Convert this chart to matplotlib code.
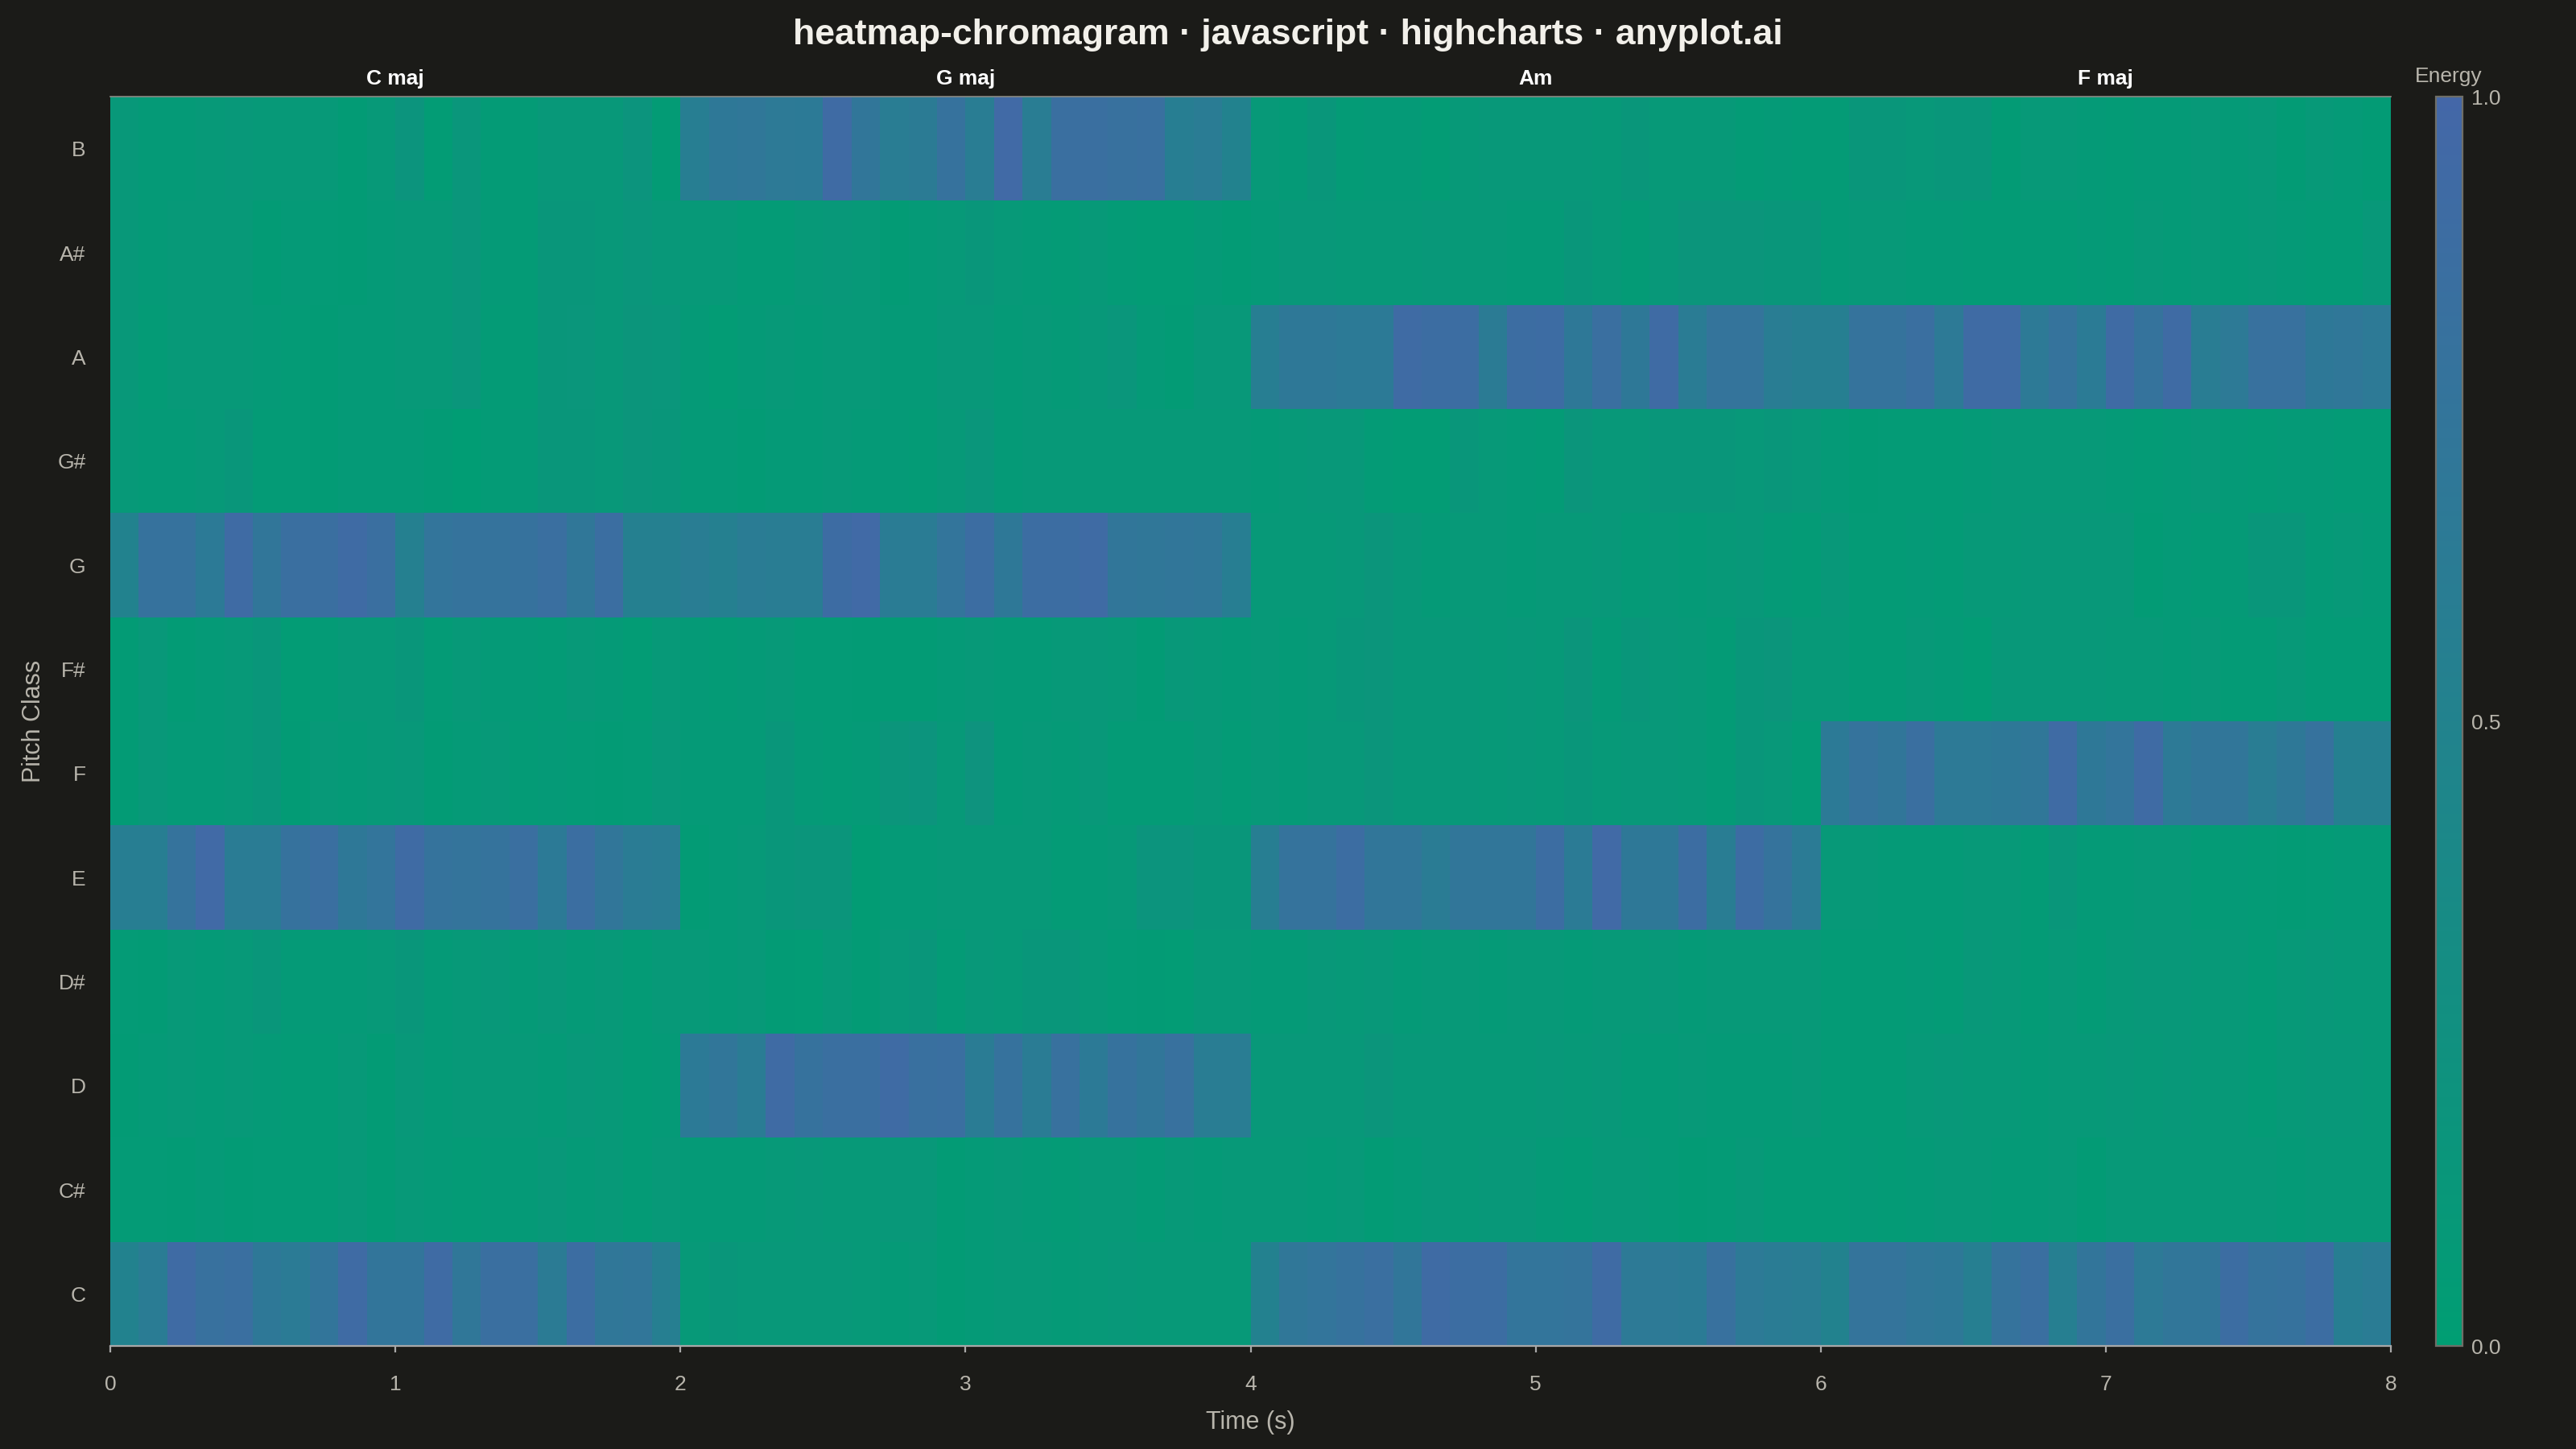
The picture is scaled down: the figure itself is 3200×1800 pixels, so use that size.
import numpy as np
import matplotlib
matplotlib.use("Agg")
import matplotlib.pyplot as plt
from matplotlib.colors import LinearSegmentedColormap

# ---------------- data ----------------
pitch_classes = ["C", "C#", "D", "D#", "E", "F", "F#", "G", "G#", "A", "A#", "B"]
frame_step = 0.1  # seconds per chroma frame
chords = ["C maj", "G maj", "Am", "F maj"]
chord_starts = [0, 2, 4, 6]
chord_ends = [2, 4, 6, 8]
x_ticks = [0, 1, 2, 3, 4, 5, 6, 7, 8]
cbar_ticks = [0.0, 0.5, 1.0]

energy_C = [0.5,0.62,0.93,0.82,0.85,0.68,0.64,0.74,0.93,0.74,0.74,0.93,0.7,0.85,0.85,0.63,0.88,0.7,0.72,0.56,
            0.1,0.14,0.12,0.12,0.12,0.12,0.1,0.08,0.1,0.05,0.08,0.1,0.1,0.08,0.1,0.12,0.1,0.1,0.1,0.1,
            0.52,0.7,0.75,0.8,0.85,0.72,0.92,0.88,0.88,0.75,0.75,0.76,0.92,0.66,0.66,0.64,0.82,0.66,0.62,0.6,
            0.5,0.76,0.76,0.7,0.68,0.56,0.78,0.85,0.56,0.74,0.85,0.66,0.72,0.72,0.88,0.78,0.8,0.88,0.58,0.62]
energy_Cs = [0.06,0.06,0.05,0.08,0.05,0.06,0.06,0.06,0.1,0.05,0.1,0.08,0.06,0.08,0.08,0.12,0.08,0.1,0.06,0.1,
             0.08,0.08,0.08,0.1,0.12,0.1,0.1,0.12,0.12,0.05,0.08,0.1,0.08,0.06,0.1,0.1,0.06,0.1,0.08,0.1,
             0.1,0.1,0.08,0.1,0.05,0.08,0.12,0.1,0.12,0.12,0.08,0.06,0.1,0.1,0.08,0.05,0.06,0.1,0.06,0.06,
             0.06,0.08,0.06,0.08,0.1,0.1,0.08,0.08,0.1,0.05,0.1,0.1,0.1,0.1,0.1,0.1,0.08,0.1,0.1,0.1]
energy_D = [0.05,0.08,0.1,0.08,0.1,0.08,0.06,0.06,0.1,0.05,0.12,0.08,0.1,0.1,0.1,0.08,0.12,0.1,0.06,0.08,
            0.65,0.72,0.62,0.92,0.8,0.85,0.85,0.93,0.83,0.85,0.62,0.8,0.62,0.82,0.65,0.8,0.72,0.82,0.6,0.6,
            0.12,0.12,0.12,0.12,0.16,0.12,0.12,0.1,0.1,0.1,0.12,0.1,0.12,0.08,0.08,0.1,0.08,0.08,0.08,0.1,
            0.06,0.06,0.06,0.1,0.12,0.1,0.1,0.08,0.1,0.1,0.12,0.1,0.12,0.1,0.1,0.06,0.1,0.12,0.12,0.1]
energy_Ds = [0.06,0.05,0.1,0.08,0.1,0.14,0.08,0.08,0.08,0.1,0.14,0.08,0.1,0.12,0.08,0.12,0.08,0.1,0.06,0.1,
             0.1,0.08,0.1,0.05,0.04,0.1,0.05,0.12,0.14,0.06,0.12,0.1,0.14,0.14,0.1,0.06,0.05,0.04,0.1,0.1,
             0.08,0.08,0.12,0.1,0.12,0.08,0.1,0.1,0.08,0.1,0.1,0.08,0.1,0.1,0.12,0.08,0.1,0.1,0.1,0.1,
             0.06,0.06,0.06,0.08,0.06,0.12,0.1,0.06,0.1,0.06,0.1,0.12,0.12,0.1,0.1,0.06,0.1,0.12,0.1,0.1]
energy_E = [0.58,0.58,0.78,0.95,0.62,0.62,0.8,0.85,0.68,0.75,0.93,0.78,0.76,0.78,0.85,0.65,0.87,0.72,0.62,0.6,
            0.05,0.08,0.1,0.14,0.16,0.16,0.03,0.08,0.08,0.1,0.1,0.1,0.1,0.06,0.08,0.1,0.18,0.18,0.14,0.14,
            0.58,0.78,0.78,0.88,0.72,0.72,0.62,0.72,0.72,0.72,0.88,0.64,0.95,0.68,0.68,0.88,0.6,0.9,0.78,0.64,
            0.1,0.1,0.08,0.08,0.08,0.1,0.1,0.06,0.14,0.08,0.08,0.1,0.1,0.06,0.08,0.06,0.05,0.06,0.08,0.08]
energy_F = [0.05,0.12,0.08,0.08,0.1,0.14,0.05,0.1,0.08,0.1,0.12,0.05,0.08,0.1,0.06,0.08,0.06,0.05,0.06,0.12,
            0.08,0.08,0.08,0.14,0.08,0.06,0.08,0.16,0.18,0.1,0.2,0.08,0.1,0.08,0.12,0.06,0.06,0.06,0.1,0.06,
            0.1,0.08,0.12,0.12,0.16,0.12,0.12,0.12,0.1,0.12,0.1,0.14,0.1,0.12,0.12,0.1,0.06,0.14,0.12,0.06,
            0.65,0.78,0.72,0.85,0.66,0.66,0.68,0.7,0.92,0.68,0.75,0.92,0.66,0.72,0.72,0.6,0.68,0.8,0.55,0.55]
energy_Fs = [0.05,0.12,0.05,0.08,0.1,0.14,0.04,0.06,0.1,0.1,0.14,0.06,0.1,0.08,0.08,0.06,0.1,0.08,0.04,0.1,
             0.08,0.06,0.08,0.1,0.06,0.06,0.05,0.05,0.05,0.08,0.1,0.08,0.08,0.1,0.12,0.1,0.05,0.12,0.1,0.08,
             0.1,0.08,0.1,0.14,0.16,0.12,0.12,0.12,0.1,0.12,0.1,0.16,0.08,0.14,0.12,0.1,0.06,0.14,0.16,0.1,
             0.1,0.06,0.06,0.1,0.08,0.04,0.12,0.12,0.12,0.12,0.1,0.1,0.08,0.1,0.06,0.06,0.1,0.06,0.06,0.06]
energy_G = [0.5,0.8,0.8,0.65,0.92,0.72,0.85,0.85,0.93,0.85,0.55,0.75,0.78,0.78,0.8,0.85,0.7,0.87,0.55,0.55,
            0.6,0.55,0.62,0.6,0.6,0.9,0.95,0.62,0.62,0.75,0.88,0.68,0.88,0.88,0.92,0.72,0.7,0.72,0.7,0.58,
            0.1,0.1,0.1,0.12,0.16,0.12,0.08,0.1,0.1,0.08,0.1,0.1,0.12,0.08,0.1,0.08,0.1,0.12,0.08,0.06,
            0.12,0.06,0.06,0.08,0.06,0.1,0.1,0.12,0.12,0.12,0.12,0.05,0.08,0.06,0.08,0.14,0.14,0.08,0.1,0.08]
energy_Gs = [0.1,0.08,0.08,0.1,0.14,0.06,0.06,0.05,0.08,0.08,0.08,0.05,0.02,0.06,0.08,0.14,0.14,0.12,0.16,0.14,
             0.08,0.08,0.05,0.08,0.08,0.1,0.08,0.08,0.06,0.1,0.15,0.08,0.1,0.1,0.1,0.1,0.1,0.1,0.1,0.1,
             0.08,0.1,0.12,0.12,0.06,0.04,0.04,0.14,0.1,0.08,0.06,0.16,0.12,0.12,0.14,0.14,0.14,0.12,0.14,0.12,
             0.08,0.05,0.06,0.06,0.06,0.08,0.1,0.1,0.1,0.1,0.08,0.06,0.08,0.1,0.08,0.06,0.08,0.08,0.06,0.06]
energy_A = [0.12,0.06,0.1,0.1,0.1,0.08,0.06,0.05,0.08,0.08,0.1,0.1,0.15,0.06,0.06,0.14,0.15,0.12,0.16,0.15,
            0.08,0.04,0.08,0.1,0.08,0.1,0.1,0.08,0.08,0.12,0.12,0.08,0.1,0.08,0.12,0.15,0.08,0.05,0.12,0.12,
            0.58,0.68,0.68,0.65,0.65,0.93,0.88,0.88,0.63,0.88,0.9,0.68,0.85,0.68,0.92,0.62,0.76,0.76,0.6,0.56,
            0.56,0.78,0.78,0.85,0.66,0.93,0.93,0.66,0.78,0.64,0.92,0.78,0.92,0.6,0.66,0.82,0.82,0.68,0.7,0.66]
energy_As = [0.12,0.08,0.1,0.1,0.1,0.05,0.08,0.06,0.05,0.08,0.1,0.1,0.15,0.08,0.06,0.14,0.14,0.12,0.15,0.12,
             0.1,0.1,0.06,0.06,0.1,0.12,0.1,0.05,0.08,0.1,0.14,0.1,0.08,0.06,0.1,0.06,0.04,0.04,0.08,0.05,
             0.08,0.12,0.12,0.1,0.1,0.1,0.12,0.1,0.1,0.08,0.08,0.14,0.1,0.06,0.12,0.16,0.16,0.16,0.14,0.14,
             0.08,0.1,0.1,0.08,0.08,0.06,0.06,0.06,0.06,0.08,0.06,0.1,0.08,0.1,0.08,0.1,0.08,0.06,0.06,0.12]
energy_B = [0.12,0.08,0.08,0.1,0.12,0.1,0.1,0.1,0.05,0.1,0.18,0.04,0.15,0.06,0.06,0.12,0.12,0.12,0.18,0.05,
            0.58,0.68,0.7,0.66,0.65,0.92,0.72,0.6,0.63,0.8,0.6,0.95,0.6,0.85,0.85,0.82,0.83,0.58,0.62,0.5,
            0.1,0.08,0.14,0.06,0.08,0.08,0.04,0.1,0.12,0.12,0.12,0.12,0.1,0.14,0.1,0.1,0.1,0.06,0.08,0.06,
            0.06,0.14,0.14,0.12,0.14,0.14,0.05,0.1,0.1,0.08,0.06,0.08,0.08,0.1,0.08,0.1,0.05,0.1,0.08,0.05]

energy = np.array([energy_C, energy_Cs, energy_D, energy_Ds, energy_E, energy_F,
                   energy_Fs, energy_G, energy_Gs, energy_A, energy_As, energy_B])

# ---------------- style ----------------
BG = "#1B1B18"
TXT = "#B8B5AC"
FONT = ["Liberation Sans", "DejaVu Sans"]
plt.rcParams["font.family"] = FONT

cmap = LinearSegmentedColormap.from_list("okabe_energy", ["#009E73", "#4467A8"])

fig = plt.figure(figsize=(16, 9), dpi=200, facecolor=BG)
ax = fig.add_axes([137 / 3200, 1 - 1672 / 1800, (2970 - 137) / 3200, (1672 - 120) / 1800])
ax.set_facecolor(BG)

n_frames = energy.shape[1]
time_edges = np.arange(n_frames + 1) * frame_step
pitch_edges = np.arange(len(pitch_classes) + 1)
mesh = ax.pcolormesh(time_edges, pitch_edges, energy, cmap=cmap, vmin=0, vmax=1,
                     shading="flat", edgecolors="none", antialiased=False)

ax.set_xlim(time_edges[0], time_edges[-1])
ax.set_ylim(0, len(pitch_classes))
ax.set_yticks(np.arange(len(pitch_classes)) + 0.5)
ax.set_yticklabels(pitch_classes)
ax.set_xticks(x_ticks)
ax.set_xticklabels([str(t) for t in x_ticks])

ax.tick_params(axis="y", length=0, pad=11, labelsize=9.5, labelcolor=TXT)
ax.tick_params(axis="x", length=3, width=0.8, color="#A8A8A8", pad=10,
               labelsize=9.5, labelcolor=TXT)

for side in ["left", "right"]:
    ax.spines[side].set_visible(False)
ax.spines["bottom"].set_color("#A8A8A8")
ax.spines["bottom"].set_linewidth(0.8)
ax.spines["top"].set_color("#8A8A84")
ax.spines["top"].set_linewidth(0.6)

ax.set_xlabel("Time (s)", color=TXT, fontsize=11, labelpad=7)
ax.set_ylabel("Pitch Class", color=TXT, fontsize=11, labelpad=5)

# chord labels above the heatmap
for name, s, e in zip(chords, chord_starts, chord_ends):
    ax.text((s + e) / 2, 1 + 22 / 1552, name, transform=ax.get_xaxis_transform(),
            ha="center", va="center", fontsize=9.5, fontweight="bold", color="#FFFFFF")

# title
fig.text(0.5, 1 - 43 / 1800, "heatmap-chromagram · javascript · highcharts · anyplot.ai",
         ha="center", va="center", fontsize=16, fontweight="bold", color="#F2F0EA")

# colorbar
cax = fig.add_axes([3026 / 3200, 1 - 1672 / 1800, 33 / 3200, (1672 - 120) / 1800])
cb = fig.colorbar(mesh, cax=cax, ticks=cbar_ticks)
cb.ax.set_yticklabels([f"{t:.1f}" for t in cbar_ticks])
cb.ax.tick_params(length=0, pad=4, labelsize=9.5, labelcolor=TXT)
cb.outline.set_edgecolor("#6E6E68")
cb.outline.set_linewidth(0.8)
fig.text(3042 / 3200, 1 - 95 / 1800, "Energy", ha="center", va="center",
         fontsize=9.5, color=TXT)

fig.savefig("out.png", dpi=200, facecolor=BG)
